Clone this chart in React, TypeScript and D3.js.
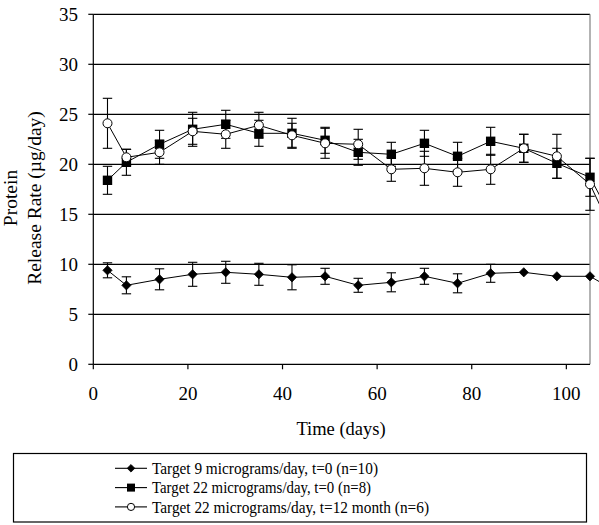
import React from "react";
import * as d3 from "d3";

const days = [3, 7, 14, 21, 28, 35, 42, 49, 56, 63, 70, 77, 84, 91, 98, 105, 112];

const lowMean = [9.4, 7.9, 8.5, 9.0, 9.2, 9.0, 8.7, 8.8, 7.9, 8.2, 8.8, 8.1, 9.1, 9.2, 8.8, 8.8, 6.9];
const lowErr = [0.75, 0.85, 1.05, 1.2, 1.1, 1.1, 1.25, 0.8, 0.7, 0.95, 0.8, 0.95, 0.9, 0, 0, 0, 0];

const highMean = [18.4, 20.2, 22.0, 23.5, 24.0, 23.1, 23.1, 22.4, 21.2, 21.0, 22.1, 20.8, 22.3, 21.6, 20.1, 18.7, 12.5];
const highErr = [1.4, 1.3, 1.4, 1.7, 1.4, 1.3, 1.5, 1.3, 1.3, 1.2, 1.3, 1.4, 1.4, 1.4, 1.5, 1.9, 0];

const agedMean = [24.1, 20.7, 21.2, 23.3, 23.0, 23.9, 22.9, 22.1, 22.0, 19.5, 19.6, 19.2, 19.5, 21.6, 20.8, 18.0, 11.0];
const agedErr = [2.5, 0.8, 1.2, 1.3, 1.4, 1.3, 1.2, 1.5, 1.5, 1.2, 1.7, 1.4, 1.5, 1.4, 2.2, 2.6, 0];

const yTicks = [0, 5, 10, 15, 20, 25, 30, 35];
const xTicks = [0, 20, 40, 60, 80, 100];

const legendLabels = [
  "Target 9 micrograms/day, t=0 (n=10)",
  "Target 22 micrograms/day, t=0 (n=8)",
  "Target 22 micrograms/day, t=12 month (n=6)",
];

const FONT = "'Liberation Serif', 'Times New Roman', serif";

type Kind = "diamond" | "square" | "circle";

function Marker({ kind, x, y, s }: { kind: Kind; x: number; y: number; s: number }) {
  if (kind === "diamond") {
    return (
      <path
        d={`M${x},${y - s} L${x + s},${y} L${x},${y + s} L${x - s},${y} Z`}
        fill="#000"
        stroke="#000"
        strokeWidth={0.8}
      />
    );
  }
  if (kind === "square") {
    return <rect x={x - s} y={y - s} width={2 * s} height={2 * s} fill="#000" />;
  }
  return <circle cx={x} cy={y} r={s} fill="#fff" stroke="#000" strokeWidth={1} />;
}

export default function App() {
  const W = 599;
  const H = 525;
  const x = d3.scaleLinear().domain([0, 105]).range([93.3, 590]);
  const y = d3.scaleLinear().domain([0, 35]).range([364.3, 14.3]);

  const series: { mean: number[]; err: number[]; kind: Kind; size: number }[] = [
    { mean: lowMean, err: lowErr, kind: "diamond", size: 4.6 },
    { mean: highMean, err: highErr, kind: "square", size: 4.7 },
    { mean: agedMean, err: agedErr, kind: "circle", size: 4.5 },
  ];

  const line = d3
    .line<number>()
    .x((_, i) => x(days[i]))
    .y((d) => y(d));

  const plotLeft = x(0);
  const plotRight = x(105);

  return (
    <svg
      width={W}
      height={H}
      style={{ position: "absolute", left: 0, top: 0, background: "#fff" }}
      fontFamily={FONT}
    >
      <rect x={0} y={0} width={W} height={H} fill="#fff" />

      {/* gridlines */}
      {yTicks.slice(1).map((t) => (
        <line key={"g" + t} x1={plotLeft} x2={plotRight} y1={y(t)} y2={y(t)} stroke="#000" strokeWidth={1.2} />
      ))}
      {/* right border */}
      <line x1={plotRight} x2={plotRight} y1={y(35)} y2={y(0)} stroke="#808080" strokeWidth={1.2} />

      {/* axes */}
      <line x1={plotLeft} x2={plotLeft} y1={y(35)} y2={y(0)} stroke="#000" strokeWidth={1.2} />
      <line x1={plotLeft} x2={plotRight} y1={y(0)} y2={y(0)} stroke="#000" strokeWidth={1.2} />
      {yTicks.map((t) => (
        <g key={"yt" + t}>
          <line x1={plotLeft - 5} x2={plotLeft} y1={y(t)} y2={y(t)} stroke="#000" strokeWidth={1.2} />
          <text x={78} y={y(t) + 6.5} textAnchor="end" fontSize={19} fill="#000">
            {t}
          </text>
        </g>
      ))}
      {xTicks.map((t) => (
        <g key={"xt" + t}>
          <line x1={x(t)} x2={x(t)} y1={y(0)} y2={y(0) + 5} stroke="#000" strokeWidth={1.2} />
          <text x={x(t)} y={400} textAnchor="middle" fontSize={19} fill="#000">
            {t}
          </text>
        </g>
      ))}

      {/* axis titles */}
      <text x={341} y={435} textAnchor="middle" fontSize={18.5} fill="#000">
        Time (days)
      </text>
      <text transform="translate(17,198) rotate(-90)" textAnchor="middle" fontSize={19.5} fill="#000">
        Protein
      </text>
      <text transform="translate(40.5,198) rotate(-90)" textAnchor="middle" fontSize={19.5} fill="#000">
        Release Rate (µg/day)
      </text>

      {/* series */}
      {series.map((s, si) => (
        <g key={"s" + si}>
          <path d={line(s.mean) || ""} fill="none" stroke="#000" strokeWidth={1} />
          {s.mean.map((m, i) =>
            s.err[i] > 0 && days[i] <= 105 ? (
              <g key={"e" + i}>
                <line x1={x(days[i])} x2={x(days[i])} y1={y(m + s.err[i])} y2={y(m - s.err[i])} stroke="#000" strokeWidth={1.1} />
                <line x1={x(days[i]) - 4.7} x2={x(days[i]) + 4.7} y1={y(m + s.err[i])} y2={y(m + s.err[i])} stroke="#000" strokeWidth={1.1} />
                <line x1={x(days[i]) - 4.7} x2={x(days[i]) + 4.7} y1={y(m - s.err[i])} y2={y(m - s.err[i])} stroke="#000" strokeWidth={1.1} />
              </g>
            ) : null
          )}
        </g>
      ))}
      {series.map((s, si) => (
        <g key={"m" + si}>
          {s.mean.map((m, i) =>
            days[i] <= 105 ? <Marker key={i} kind={s.kind} x={x(days[i])} y={y(m)} s={s.size} /> : null
          )}
        </g>
      ))}

      {/* legend */}
      <rect x={13.5} y={453.5} width={573} height={68.5} fill="#fff" stroke="#000" strokeWidth={1.2} />
      {legendLabels.map((lab, i) => {
        const cy = 468.3 + i * 19.3;
        const kinds: Kind[] = ["diamond", "square", "circle"];
        const sizes = [3.8, 4, 3.6];
        const lens = [226, 219, 277];
        return (
          <g key={"l" + i}>
            <line x1={115} x2={147} y1={cy} y2={cy} stroke="#000" strokeWidth={1.1} />
            <Marker kind={kinds[i]} x={131} y={cy} s={sizes[i]} />
            <text
              x={152}
              y={cy + 5.8}
              fontSize={17}
              fill="#000"
              textLength={lens[i]}
              lengthAdjust="spacingAndGlyphs"
            >
              {lab}
            </text>
          </g>
        );
      })}
    </svg>
  );
}
